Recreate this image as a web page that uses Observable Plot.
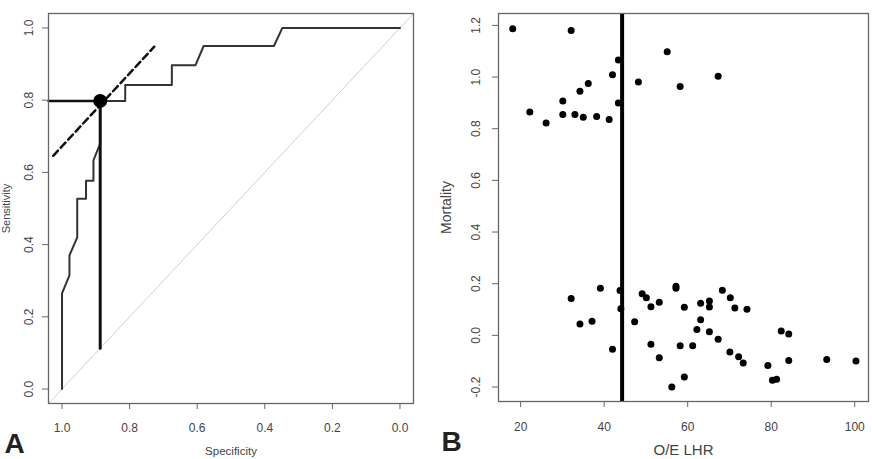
<!DOCTYPE html>
<html><head><meta charset="utf-8">
<script src="https://cdn.jsdelivr.net/npm/d3@7"></script>
<script src="https://cdn.jsdelivr.net/npm/@observablehq/plot@0.6"></script>
<style>
body{margin:0;background:#fff;}
#wrap{display:flex;width:872px;height:459px;overflow:hidden;}
svg{display:block;}
</style></head><body><div id="wrap"></div>
<script>
// ---- Panel A: ROC curve ----
const rocSpec = [1.0, 1.0, 0.978, 0.978, 0.955, 0.955, 0.929, 0.929, 0.907, 0.907, 0.887, 0.887, 0.813, 0.813, 0.675, 0.675, 0.605, 0.581, 0.373, 0.348, 0.0];
const rocSens = [0.0, 0.265, 0.315, 0.37, 0.42, 0.527, 0.527, 0.577, 0.577, 0.633, 0.68, 0.798, 0.798, 0.842, 0.842, 0.897, 0.897, 0.95, 0.95, 1.0, 1.0];
const bestSpec = 0.887;
const bestSens = 0.798;
const tangentSpec = [1.026, 0.727];
const tangentSens = [0.646, 0.948];
const specDomain = [1.04, -0.04];
const sensDomain = [-0.04, 1.04];
const specTicks = [1.0, 0.8, 0.6, 0.4, 0.2, 0.0];
const sensTicks = [0.0, 0.2, 0.4, 0.6, 0.8, 1.0];

// ---- Panel B: scatter ----
const lhr = [18.1, 32.1, 55.1, 43.4, 42.0, 48.2, 67.3, 58.2, 36.2, 34.2, 30.1, 43.4, 22.2, 26.1, 30.1, 33.0, 35.0, 38.2, 41.2,
  32.1, 34.2, 37.1, 39.1, 42.0, 43.8, 44.0, 47.3, 49.1, 50.1, 51.2, 51.2, 53.2, 53.2, 56.2, 57.2, 57.2, 58.2, 59.2, 59.2,
  61.2, 62.2, 63.1, 63.1, 65.2, 65.2, 65.2, 67.3, 68.3, 70.2, 71.3, 74.2, 70.1, 72.2, 73.3, 79.2, 80.3, 81.3, 82.4, 84.2, 84.2, 93.3, 100.3];
const mortality = [1.187, 1.18, 1.098, 1.066, 1.009, 0.981, 1.003, 0.963, 0.975, 0.945, 0.907, 0.9, 0.865, 0.822, 0.855, 0.855, 0.844, 0.847, 0.836,
  0.143, 0.044, 0.055, 0.182, -0.054, 0.174, 0.103, 0.053, 0.161, 0.146, 0.111, -0.034, 0.128, -0.087, -0.2, 0.19, 0.182, -0.04, 0.109, -0.161,
  -0.04, 0.023, 0.06, 0.124, 0.133, 0.11, 0.014, -0.015, 0.175, 0.146, 0.106, 0.101, -0.064, -0.083, -0.107, -0.117, -0.174, -0.17, 0.017, 0.005, -0.097, -0.093, -0.099];
const cutoffLHR = 44.3;
const lhrDomain = [14.7, 103.3];
const mortDomain = [-0.256, 1.246];
const lhrTicks = [20, 40, 60, 80, 100];
const mortTicks = [-0.2, 0.0, 0.2, 0.4, 0.6, 0.8, 1.0, 1.2];

const FONT = "'Liberation Sans', Arial, Helvetica, sans-serif";
const fmt1 = d => d.toFixed(1);

// Panel A
const roc = rocSpec.map((s, i) => ({spec: s, sens: rocSens[i]}));
const chance = specDomain.map(s => ({spec: s, sens: 1 - s}));
const hLine = [{spec: specDomain[0], sens: bestSens}, {spec: bestSpec, sens: bestSens}];
const vLine = [{spec: bestSpec, sens: bestSens}, {spec: bestSpec, sens: 1 - bestSpec}];
const tangent = tangentSpec.map((s, i) => ({spec: s, sens: tangentSens[i]}));

const plotA = Plot.plot({
  width: 436, height: 459,
  marginLeft: 48, marginRight: 23, marginTop: 13, marginBottom: 56,
  style: {fontFamily: FONT, background: "#fff", color: "#444"},
  x: {domain: specDomain, label: null},
  y: {domain: sensDomain, label: null},
  marks: [
    Plot.line(chance, {x: "spec", y: "sens", stroke: "#d0d0d0", strokeWidth: 1}),
    Plot.line(roc, {x: "spec", y: "sens", stroke: "#333", strokeWidth: 2, curve: "linear"}),
    Plot.line(hLine, {x: "spec", y: "sens", stroke: "#111", strokeWidth: 2.5}),
    Plot.line(vLine, {x: "spec", y: "sens", stroke: "#111", strokeWidth: 3}),
    Plot.line(tangent, {x: "spec", y: "sens", stroke: "#111", strokeWidth: 2.5, strokeDasharray: "7,4"}),
    Plot.dot([{spec: bestSpec, sens: bestSens}], {x: "spec", y: "sens", r: 7, fill: "#000", stroke: "none"}),
    Plot.frame({stroke: "#666", strokeWidth: 1.3}),
    Plot.axisX(specTicks, {anchor: "bottom", tickSize: 6, tickPadding: 14, tickFormat: fmt1, fontSize: 12, stroke: "#666", fill: "#444", label: null}),
    Plot.axisY(sensTicks, {anchor: "left", tickSize: 6, tickPadding: 10, tickRotate: -90, tickFormat: fmt1, fontSize: 12, stroke: "#666", fill: "#444", label: null}),
    Plot.text(["Sensitivity"], {frameAnchor: "left", dx: -42, rotate: -90, textAnchor: "middle", lineAnchor: "middle", fontSize: 11, fill: "#444"}),
    Plot.text(["Specificity"], {frameAnchor: "bottom", dy: 48, textAnchor: "middle", lineAnchor: "middle", fontSize: 11.5, fill: "#444"}),
    Plot.text(["A"], {frameAnchor: "bottom-left", dx: -34, dy: 41, textAnchor: "middle", lineAnchor: "middle", fontSize: 28, fontWeight: "bold", fill: "#222"})
  ]
});

// Panel B
const pts = lhr.map((v, i) => ({lhr: v, mort: mortality[i]}));
const plotB = Plot.plot({
  width: 436, height: 459,
  marginLeft: 62, marginRight: 4, marginTop: 13, marginBottom: 58,
  style: {fontFamily: FONT, background: "#fff", color: "#444"},
  x: {domain: lhrDomain, label: null},
  y: {domain: mortDomain, label: null},
  marks: [
    Plot.dot(pts, {x: "lhr", y: "mort", r: 3.5, fill: "#000", stroke: "none"}),
    Plot.ruleX([cutoffLHR], {stroke: "#000", strokeWidth: 4}),
    Plot.frame({stroke: "#666", strokeWidth: 1.3}),
    Plot.axisX(lhrTicks, {anchor: "bottom", tickSize: 6, tickPadding: 15, fontSize: 12, stroke: "#666", fill: "#444", label: null}),
    Plot.axisY(mortTicks, {anchor: "left", tickSize: 6, tickPadding: 13, tickRotate: -90, tickFormat: fmt1, fontSize: 12, stroke: "#666", fill: "#444", label: null}),
    Plot.text(["Mortality"], {frameAnchor: "left", dx: -52, rotate: -90, textAnchor: "middle", lineAnchor: "middle", fontSize: 14, fill: "#444"}),
    Plot.text(["O/E LHR"], {frameAnchor: "bottom", dy: 49, textAnchor: "middle", lineAnchor: "middle", fontSize: 15, fill: "#444"}),
    Plot.text(["B"], {frameAnchor: "bottom-left", dx: -47, dy: 41, textAnchor: "middle", lineAnchor: "middle", fontSize: 28, fontWeight: "bold", fill: "#222"})
  ]
});

document.getElementById("wrap").append(plotA, plotB);
</script></body></html>
